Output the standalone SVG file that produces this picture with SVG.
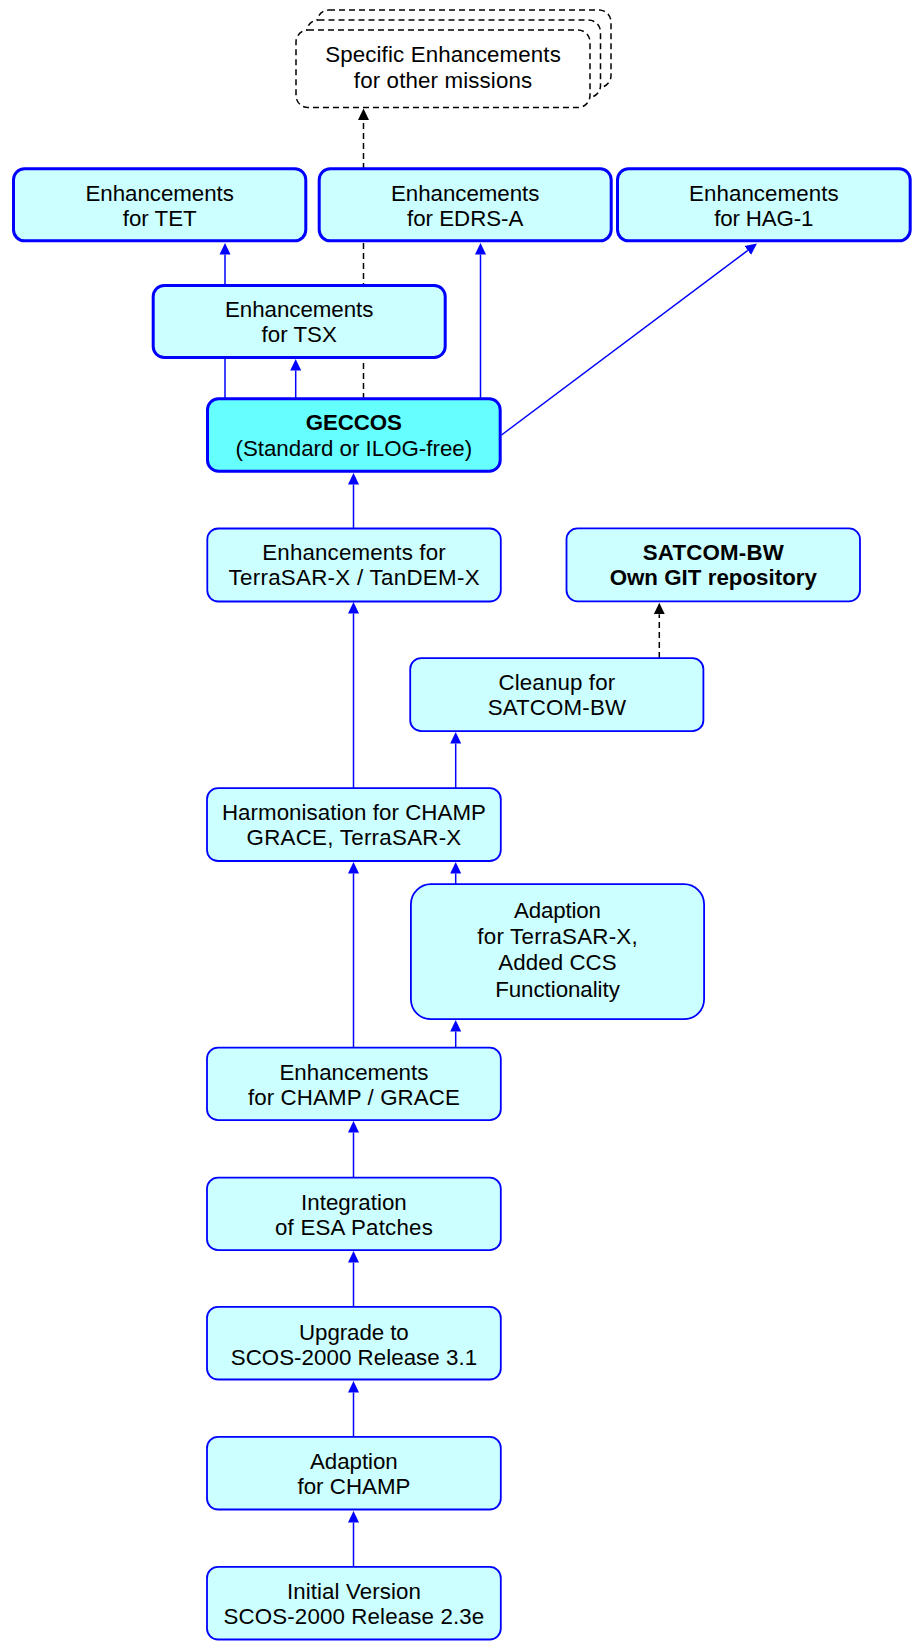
<svg xmlns="http://www.w3.org/2000/svg" width="915" height="1646" viewBox="0 0 915 1646">
<style>
.n{fill:#ccffff;stroke:#0000ff;stroke-width:1.8}
.nt{fill:#ccffff;stroke:#0000ff;stroke-width:3}
.g{fill:#66ffff;stroke:#0000ff;stroke-width:3}
.d{fill:#ffffff;stroke:#000000;stroke-width:1.5;stroke-dasharray:6,4}
.e{fill:none;stroke:#0000ff;stroke-width:1.5}
.ed{fill:none;stroke:#000000;stroke-width:1.5;stroke-dasharray:6,4}
text{font-family:"Liberation Sans",Arial,Helvetica,sans-serif;font-size:22.3px;text-anchor:middle;fill:#000000}
.b{font-weight:bold}
</style>
<defs>
<marker id="ab" markerUnits="userSpaceOnUse" markerWidth="12" markerHeight="12" refX="0" refY="5.5" orient="auto" viewBox="0 0 12 11">
<path d="M0,0 L11.5,5.5 L0,11 z" fill="#0000ff"/>
</marker>
<marker id="ak" markerUnits="userSpaceOnUse" markerWidth="12" markerHeight="12" refX="0" refY="5.5" orient="auto" viewBox="0 0 12 11">
<path d="M0,0 L11.5,5.5 L0,11 z" fill="#000000"/>
</marker>
</defs>
<g id="connectors">
<path class="e" d="M353.5,1566 L353.5,1522.5" marker-end="url(#ab)"/>
<path class="e" d="M353.5,1436 L353.5,1392.5" marker-end="url(#ab)"/>
<path class="e" d="M353.5,1306 L353.5,1262.5" marker-end="url(#ab)"/>
<path class="e" d="M353.5,1177 L353.5,1132.5" marker-end="url(#ab)"/>
<path class="e" d="M353.5,1047 L353.5,873.5" marker-end="url(#ab)"/>
<path class="e" d="M455.7,1047 L455.7,1031.5" marker-end="url(#ab)"/>
<path class="e" d="M455.7,884 L455.7,873.5" marker-end="url(#ab)"/>
<path class="e" d="M353.5,788 L353.5,613.5" marker-end="url(#ab)"/>
<path class="e" d="M455.7,788 L455.7,743.5" marker-end="url(#ab)"/>
<path class="ed" d="M659.3,658 L659.3,614.2" marker-end="url(#ak)"/>
<path class="e" d="M353.5,528 L353.5,484.5" marker-end="url(#ab)"/>
<path class="e" d="M295.7,399 L295.7,370.5" marker-end="url(#ab)"/>
<path class="e" d="M225,399 L225,254.5" marker-end="url(#ab)"/>
<path class="e" d="M480.5,399 L480.5,254.5" marker-end="url(#ab)"/>
<path class="e" d="M501.5,435 L747.8,250.4" marker-end="url(#ab)"/>
<path class="ed" d="M363.5,399 L363.5,120" marker-end="url(#ak)"/>
</g>
<g id="other_missions">
<rect class="d" x="317" y="10" width="294" height="77.5" rx="12"/>
<rect class="d" x="306.5" y="20" width="294" height="77.5" rx="12"/>
<rect class="d" x="296" y="30" width="294" height="77.5" rx="12"/>
<text x="443" y="62" textLength="235.7">Specific Enhancements</text>
<text x="443" y="87.5" textLength="178.3">for other missions</text>
</g>
<g id="tet">
<rect class="nt" x="13.5" y="168.8" width="292.3" height="72" rx="11"/>
<text x="159.7" y="200.7" textLength="148.5">Enhancements</text>
<text x="159.7" y="225.7" textLength="74">for TET</text>
</g>
<g id="edrs">
<rect class="nt" x="319.2" y="168.8" width="292" height="72" rx="11"/>
<text x="465.2" y="200.7" textLength="148.5">Enhancements</text>
<text x="465.2" y="225.7">for EDRS-A</text>
</g>
<g id="hag">
<rect class="nt" x="617.5" y="168.8" width="292.7" height="72" rx="11"/>
<text x="763.8" y="200.7" textLength="149.5">Enhancements</text>
<text x="763.8" y="225.7" textLength="99">for HAG-1</text>
</g>
<g id="tsx">
<rect class="nt" x="153.2" y="285.5" width="292" height="72" rx="11"/>
<text x="299.2" y="317" textLength="148.5">Enhancements</text>
<text x="299.2" y="342" textLength="75.3">for TSX</text>
</g>
<g id="geccos">
<rect class="g" x="207.5" y="398.8" width="292.7" height="72.4" rx="11"/>
<text class="b" x="353.8" y="430" textLength="96.3">GECCOS</text>
<text x="353.8" y="456" textLength="236.7">(Standard or ILOG-free)</text>
</g>
<g id="terrasar">
<rect class="n" x="207.3" y="528.5" width="293.5" height="73" rx="11"/>
<text x="354" y="560" textLength="183.3">Enhancements for</text>
<text x="354" y="585" textLength="251">TerraSAR-X / TanDEM-X</text>
</g>
<g id="satcom">
<rect class="n" x="566.5" y="528.3" width="293.5" height="73" rx="11"/>
<text class="b" x="713.3" y="559.5" textLength="141">SATCOM-BW</text>
<text class="b" x="713.3" y="584.5" textLength="207.3">Own GIT repository</text>
</g>
<g id="cleanup">
<rect class="n" x="410.2" y="658.2" width="293.2" height="73" rx="11"/>
<text x="556.8" y="690" textLength="116.7">Cleanup for</text>
<text x="556.8" y="715" textLength="138.3">SATCOM-BW</text>
</g>
<g id="harmonisation">
<rect class="n" x="207" y="788.2" width="293.8" height="72.8" rx="11"/>
<text x="353.9" y="820" textLength="264">Harmonisation for CHAMP</text>
<text x="353.9" y="845" textLength="214.7">GRACE, TerraSAR-X</text>
</g>
<g id="adaption_tsx">
<rect class="n" x="410.9" y="884.2" width="293.2" height="135" rx="20"/>
<text x="557.5" y="918.3" textLength="87">Adaption</text>
<text x="557.5" y="944" textLength="160.3">for TerraSAR-X,</text>
<text x="557.5" y="970" textLength="118.3">Added CCS</text>
<text x="557.5" y="996.5" textLength="124.7">Functionality</text>
</g>
<g id="champ_grace">
<rect class="n" x="207" y="1047.6" width="293.8" height="72.6" rx="11"/>
<text x="353.9" y="1080" textLength="149">Enhancements</text>
<text x="353.9" y="1105" textLength="212">for CHAMP / GRACE</text>
</g>
<g id="integration">
<rect class="n" x="207" y="1177.6" width="293.8" height="72.6" rx="11"/>
<text x="353.9" y="1210" textLength="105.7">Integration</text>
<text x="353.9" y="1235" textLength="158">of ESA Patches</text>
</g>
<g id="upgrade">
<rect class="n" x="207" y="1306.9" width="293.8" height="72.6" rx="11"/>
<text x="353.9" y="1339.5" textLength="109.7">Upgrade to</text>
<text x="353.9" y="1364.5" textLength="246.3">SCOS-2000 Release 3.1</text>
</g>
<g id="adaption_champ">
<rect class="n" x="207" y="1436.9" width="293.8" height="72.6" rx="11"/>
<text x="353.9" y="1469.3" textLength="87.7">Adaption</text>
<text x="353.9" y="1494.3" textLength="113">for CHAMP</text>
</g>
<g id="initial">
<rect class="n" x="207" y="1566.9" width="293.8" height="72.6" rx="11"/>
<text x="353.9" y="1599.3" textLength="134">Initial Version</text>
<text x="353.9" y="1624.3" textLength="260.7">SCOS-2000 Release 2.3e</text>
</g>
</svg>
